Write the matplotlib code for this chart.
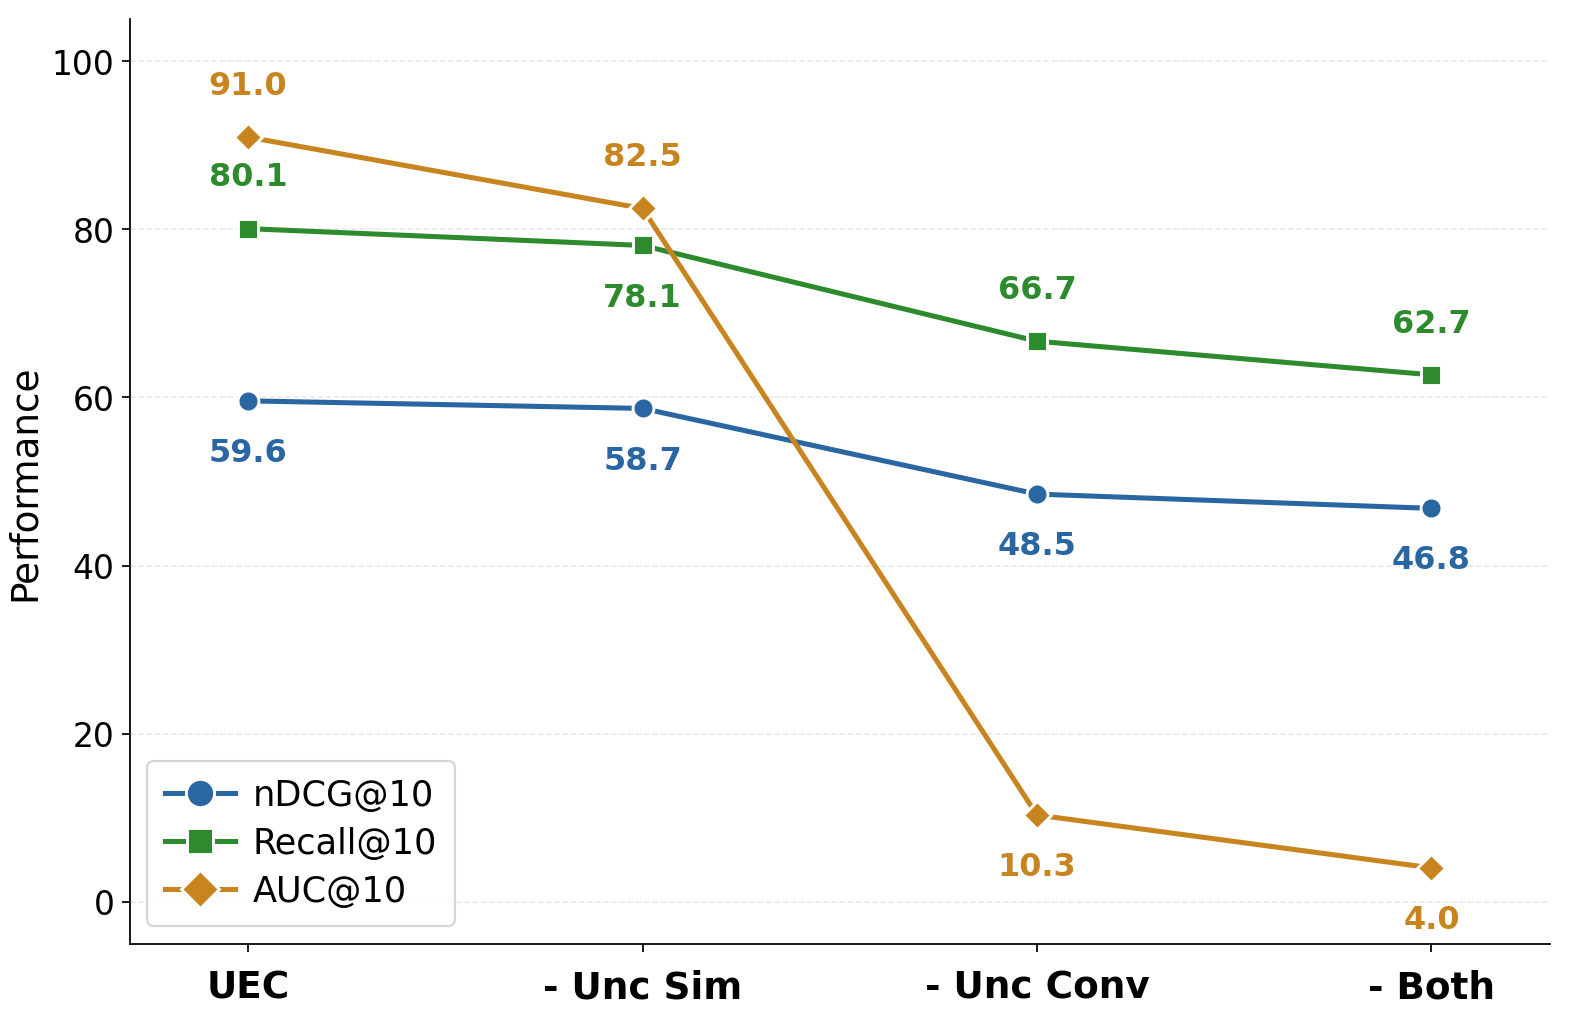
import numpy as np
import matplotlib
matplotlib.use('Agg')
import matplotlib.pyplot as plt

# Dados
variants = ['UEC', '- Unc Sim', '- Unc Conv', '- Both']
ndcg = [59.6, 58.7, 48.5, 46.8]
recall = [80.1, 78.1, 66.7, 62.7]
auc = [91.0, 82.5, 10.3, 4.0]

# posicao do rotulo: +1 acima, -1 abaixo
ndcg_pos = [-1, -1, -1, -1]
recall_pos = [1, -1, 1, 1]
auc_pos = [1, 1, -1, -1]

colors = {'ndcg': '#2a67a2', 'recall': '#2d8a2d', 'auc': '#c8841f'}

fig = plt.figure(figsize=(10, 6.443), dpi=158.3)
ax = fig.add_axes([0.082, 0.074, 0.897, 0.906])

x = np.arange(len(variants))
series = [
    (ndcg, ndcg_pos, 'nDCG@10', 'o', colors['ndcg'], 9.5),
    (recall, recall_pos, 'Recall@10', 's', colors['recall'], 9),
    (auc, auc_pos, 'AUC@10', 'D', colors['auc'], 9),
]

for vals, pos, label, marker, color, ms in series:
    ax.plot(x, vals, marker=marker, color=color, lw=2.3, ms=ms, mec='white',
            mew=1.3, label=label, zorder=3)
    for xi, v, p in zip(x, vals, pos):
        ax.annotate(f'{v:.1f}', xy=(xi, v), xytext=(0, 23.5 * p), textcoords='offset points',
                    ha='center', va='center', fontsize=14.5, fontweight='bold', color=color)

ax.set_xlim(-0.3, 3.3)
ax.set_ylim(-5, 105)
ax.set_yticks([0, 20, 40, 60, 80, 100])
ax.set_xticks(x)
ax.set_xticklabels(variants, fontsize=17, fontweight='bold')
ax.tick_params(axis='y', labelsize=15)
ax.tick_params(axis='x', pad=8)
ax.set_ylabel('Performance', fontsize=17)
ax.grid(axis='y', ls='--', color='#e8e8e8', lw=0.7, zorder=0)
ax.spines['top'].set_visible(False)
ax.spines['right'].set_visible(False)

ax.legend(loc='lower left', fontsize=16, markerscale=1.35, handlelength=2.0,
          borderpad=0.5, labelspacing=0.4, handletextpad=0.5)

fig.savefig('out.png', dpi=158.3)
